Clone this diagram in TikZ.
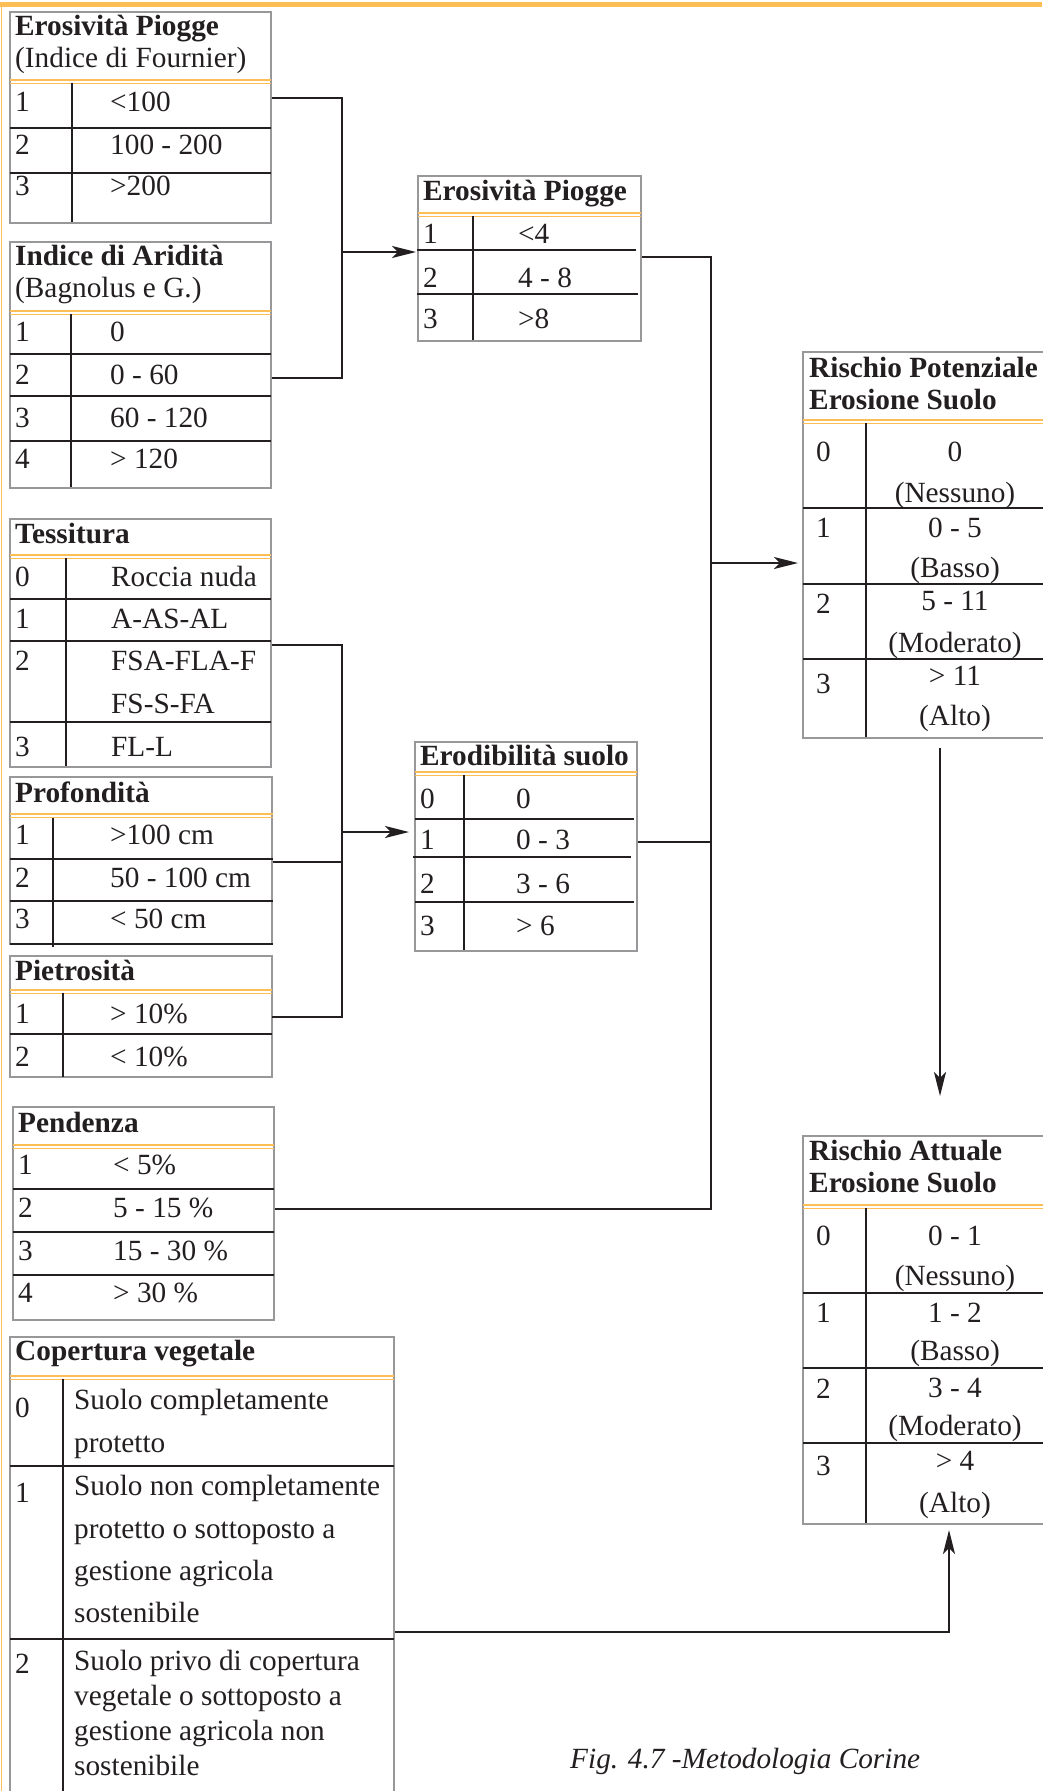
\documentclass[tikz,border=0pt]{standalone}
\usepackage{fontspec}
\setmainfont{Liberation Serif}
\usetikzlibrary{arrows.meta}
\definecolor{ink}{RGB}{35,31,32}
\definecolor{frameg}{RGB}{152,152,154}
\definecolor{gold}{RGB}{253,190,85}
% double gold rule under a table heading: x1, x2, y
\newcommand\goldrule[3]{%
  \draw[hdr] (#1,#3) -- (#2,#3);
  \draw[hdr] (#1,#3+3.2) -- (#2,#3+3.2);}
\begin{document}
\begin{tikzpicture}[x=1pt,y=-1pt,
  frame/.style={draw=frameg, line width=2.4pt, inner sep=0, outer sep=0, anchor=north west},
  rule/.style={draw=ink, line width=2.4pt},
  hdr/.style={draw=gold, line width=1.3pt},
  txt/.style={anchor=base west, inner sep=0, text=ink, font=\fontsize{29.3}{35}\selectfont},
  ttl/.style={anchor=base west, inner sep=0, text=ink, font=\fontsize{29.3}{35}\selectfont\bfseries},
  mid/.style={anchor=base, inner sep=0, text=ink, font=\fontsize{29.3}{35}\selectfont},
  wire/.style={draw=ink, line width=2.4pt},
  arr/.style={draw=ink, line width=2.4pt, -{Stealth[length=24pt,width=12pt,inset=6pt]}}]

\fill[white] (0,0) rectangle (1042,1791);
\useasboundingbox (0,0) rectangle (1042,1791);

% page decoration
\fill[gold] (0,2) rectangle (1042,7);
\draw[gold, line width=1.6pt] (1.5,7) -- (1.5,1791);

% ---------- Erosivita Piogge (Fournier) ----------
\node[frame, minimum width=261pt, minimum height=211pt] (T1) at (10,12) {};
\node[ttl] (T1a) at (15,35) {Erosività Piogge};
\node[txt] (T1b) at (15,67) {(Indice di Fournier)};
\goldrule{10}{271}{80}
\draw[rule] (72,83) -- (72,222);
\draw[rule] (10,128) -- (271,128);
\draw[rule] (10,173) -- (271,173);
\foreach \k/\v/\y in {1/{<100}/111, 2/{100 - 200}/154, 3/{>200}/195}{
  \node[txt] (T1i\k) at (15,\y) {\k};
  \node[txt] (T1v\k) at (110,\y) {\v};}

% ---------- Indice di Aridita ----------
\node[frame, minimum width=261pt, minimum height=246pt] (T2) at (10,242) {};
\node[ttl] (T2a) at (15,265) {Indice di Aridità};
\node[txt] (T2b) at (15,297) {(Bagnolus e G.)};
\goldrule{10}{271}{311}
\draw[rule] (71,314) -- (71,487);
\draw[rule] (10,354) -- (271,354);
\draw[rule] (10,396) -- (271,396);
\draw[rule] (10,441) -- (271,441);
\foreach \k/\v/\y in {1/{0}/341, 2/{0 - 60}/384, 3/{60 - 120}/427, 4/{> 120}/468}{
  \node[txt] (T2i\k) at (15,\y) {\k};
  \node[txt] (T2v\k) at (110,\y) {\v};}

% ---------- Erosivita Piogge (classi) ----------
\node[frame, minimum width=223pt, minimum height=165pt] (T3) at (418,176) {};
\node[ttl] (T3a) at (423,200) {Erosività Piogge};
\goldrule{418}{641}{213}
\draw[rule] (473,216) -- (473,340);
\draw[rule] (417,250) -- (636,250);
\draw[rule] (417,294) -- (638,294);
\foreach \k/\v/\y in {1/{<4}/243, 2/{4 - 8}/287, 3/{>8}/328}{
  \node[txt] (T3i\k) at (423,\y) {\k};
  \node[txt] (T3v\k) at (518,\y) {\v};}

% ---------- Rischio Potenziale ----------
\node[frame, minimum width=242pt, minimum height=386pt] (T4) at (803,352) {};
\node[ttl] (T4a) at (809,377) {Rischio Potenziale};
\node[ttl] (T4b) at (809,409) {Erosione Suolo};
\goldrule{803}{1045}{420}
\draw[rule] (866,423) -- (866,737);
\draw[rule] (803,508) -- (1045,508);
\draw[rule] (803,584) -- (1045,584);
\draw[rule] (803,659) -- (1045,659);
\foreach \k/\y/\a/\ya/\b/\yb in {0/461/{0}/461/{(Nessuno)}/502, 1/537/{0 - 5}/537/{(Basso)}/577,
    2/613/{5 - 11}/610/{(Moderato)}/652, 3/693/{> 11}/685/{(Alto)}/725}{
  \node[txt] (T4i\k) at (816,\y) {\k};
  \node[mid] (T4v\k) at (955,\ya) {\a};
  \node[mid] (T4w\k) at (955,\yb) {\b};}

% ---------- Rischio Attuale ----------
\node[frame, minimum width=242pt, minimum height=388pt] (T5) at (803,1136) {};
\node[ttl] (T5a) at (809,1160) {Rischio Attuale};
\node[ttl] (T5b) at (809,1192) {Erosione Suolo};
\goldrule{803}{1045}{1205}
\draw[rule] (866,1208) -- (866,1523);
\draw[rule] (803,1293) -- (1045,1293);
\draw[rule] (803,1368) -- (1045,1368);
\draw[rule] (803,1443) -- (1045,1443);
\foreach \k/\y/\a/\ya/\b/\yb in {0/1245/{0 - 1}/1245/{(Nessuno)}/1285, 1/1322/{1 - 2}/1322/{(Basso)}/1360,
    2/1398/{3 - 4}/1397/{(Moderato)}/1435, 3/1475/{> 4}/1470/{(Alto)}/1512}{
  \node[txt] (T5i\k) at (816,\y) {\k};
  \node[mid] (T5v\k) at (955,\ya) {\a};
  \node[mid] (T5w\k) at (955,\yb) {\b};}

% ---------- Tessitura ----------
\node[frame, minimum width=261pt, minimum height=248pt] (T6) at (10,519) {};
\node[ttl] (T6a) at (15,543) {Tessitura};
\goldrule{10}{271}{555}
\draw[rule] (66,558) -- (66,766);
\draw[rule] (10,599) -- (271,599);
\draw[rule] (10,641) -- (271,641);
\draw[rule] (10,722) -- (271,722);
\foreach \k/\v/\y in {0/{Roccia nuda}/586, 1/{A-AS-AL}/628, 2/{FSA-FLA-F}/670, 3/{FL-L}/756}{
  \node[txt] (T6i\k) at (15,\y) {\k};
  \node[txt] (T6v\k) at (111,\y) {\v};}
\node[txt] (T6w2) at (111,713) {FS-S-FA};

% ---------- Profondita ----------
\node[frame, minimum width=262pt, minimum height=167pt] (T7) at (10,777) {};
\node[ttl] (T7a) at (15,802) {Profondità};
\goldrule{10}{273}{814}
\draw[rule] (53,818) -- (53,947);
\draw[rule] (10,859) -- (273,859);
\draw[rule] (10,901) -- (273,901);
\draw[rule] (10,944) -- (273,944);
\foreach \k/\v/\y in {1/{>100 cm}/844, 2/{50 - 100 cm}/887, 3/{< 50 cm}/928}{
  \node[txt] (T7i\k) at (15,\y) {\k};
  \node[txt] (T7v\k) at (110,\y) {\v};}

% ---------- Pietrosita ----------
\node[frame, minimum width=262pt, minimum height=121pt] (T8) at (10,956) {};
\node[ttl] (T8a) at (15,980) {Pietrosità};
\goldrule{10}{272}{990}
\draw[rule] (63,993) -- (63,1077);
\draw[rule] (10,1034) -- (272,1034);
\foreach \k/\v/\y in {1/{> 10\%}/1023, 2/{< 10\%}/1066}{
  \node[txt] (T8i\k) at (15,\y) {\k};
  \node[txt] (T8v\k) at (110,\y) {\v};}

% ---------- Erodibilita suolo ----------
\node[frame, minimum width=222pt, minimum height=209pt] (T9) at (415,742) {};
\node[ttl] (T9a) at (420,765) {Erodibilità suolo};
\goldrule{415}{637}{772}
\draw[rule] (464,775) -- (464,950);
\draw[rule] (415,819) -- (634,819);
\draw[rule] (413,857) -- (631,857);
\draw[rule] (415,902) -- (634,902);
\foreach \k/\v/\y in {0/{0}/808, 1/{0 - 3}/849, 2/{3 - 6}/893, 3/{> 6}/935}{
  \node[txt] (T9i\k) at (420,\y) {\k};
  \node[txt] (T9v\k) at (516,\y) {\v};}

% ---------- Pendenza ----------
\node[frame, minimum width=261pt, minimum height=213pt] (T10) at (13,1107) {};
\node[ttl] (T10a) at (18,1132) {Pendenza};
\goldrule{13}{274}{1145}
\draw[rule] (13,1189) -- (274,1189);
\draw[rule] (13,1232) -- (274,1232);
\draw[rule] (13,1275) -- (274,1275);
\foreach \k/\v/\y in {1/{< 5\%}/1174, 2/{5 - 15 \%}/1217, 3/{15 - 30 \%}/1260, 4/{> 30 \%}/1302}{
  \node[txt] (T10i\k) at (18,\y) {\k};
  \node[txt] (T10v\k) at (113,\y) {\v};}

% ---------- Copertura vegetale ----------
\node[frame, minimum width=384pt, minimum height=470pt] (T11) at (10,1337) {};
\node[ttl] (T11a) at (15,1360) {Copertura vegetale};
\goldrule{10}{394}{1376}
\draw[rule] (63,1379) -- (63,1800);
\draw[rule] (10,1466) -- (394,1466);
\draw[rule] (10,1639) -- (394,1639);
\node[txt] (T11i0) at (15,1417) {0};
\node[txt] (T11i1) at (15,1502) {1};
\node[txt] (T11i2) at (15,1673) {2};
\node[txt] (T11l1) at (74,1409) {Suolo completamente};
\node[txt] (T11l2) at (74,1452) {protetto};
\node[txt] (T11l3) at (74,1495) {Suolo non completamente};
\node[txt] (T11l4) at (74,1538) {protetto o sottoposto a};
\node[txt] (T11l5) at (74,1580) {gestione agricola};
\node[txt] (T11l6) at (74,1622) {sostenibile};
\node[txt] (T11l7) at (74,1670) {Suolo privo di copertura};
\node[txt] (T11l8) at (74,1705) {vegetale o sottoposto a};
\node[txt] (T11l9) at (74,1740) {gestione agricola non};
\node[txt] (T11l10) at (74,1775) {sostenibile};

% ---------- caption ----------
\node[anchor=base west, inner sep=0, text=ink, font=\fontsize{29.3}{35}\selectfont\itshape]
  (cap) at (570,1768) {Fig. 4.7 -Metodologia Corine};

% ---------- connector ports and junctions ----------
\coordinate (a1) at (272,98);   \coordinate (j1t) at (342,98);
\coordinate (a2) at (272,378);  \coordinate (j1b) at (342,378);
\coordinate (j1m) at (342,252); \coordinate (b1) at (416,252);

\coordinate (a3) at (272,645);  \coordinate (j3t) at (342,645);
\coordinate (a4) at (273,862);  \coordinate (j3p) at (342,862);
\coordinate (a5) at (272,1017); \coordinate (j3b) at (342,1017);
\coordinate (j3m) at (342,832); \coordinate (b2) at (409,832);

\coordinate (c1) at (642,257);  \coordinate (j2t) at (711,257);
\coordinate (c2) at (638,842);  \coordinate (j2e) at (711,842);
\coordinate (c3) at (275,1209); \coordinate (j2b) at (711,1209);
\coordinate (j2p) at (711,563); \coordinate (d1) at (798,563);

\coordinate (e1) at (940,748);  \coordinate (e2) at (940,1096);
\coordinate (f1) at (395,1632); \coordinate (f2) at (949,1632);
\coordinate (f3) at (949,1530);

% ---------- connectors ----------
\draw[wire] (a1) -- (j1t) -- (j1b) -- (a2);
\draw[arr] (j1m) -- (b1);
\draw[wire] (a3) -- (j3t) -- (j3b) -- (a5);
\draw[wire] (a4) -- (j3p);
\draw[arr] (j3m) -- (b2);
\draw[wire] (c1) -- (j2t) -- (j2b) -- (c3);
\draw[wire] (c2) -- (j2e);
\draw[arr] (j2p) -- (d1);
\draw[arr] (e1) -- (e2);
\draw[arr] (f1) -- (f2) -- (f3);
\end{tikzpicture}
\end{document}
